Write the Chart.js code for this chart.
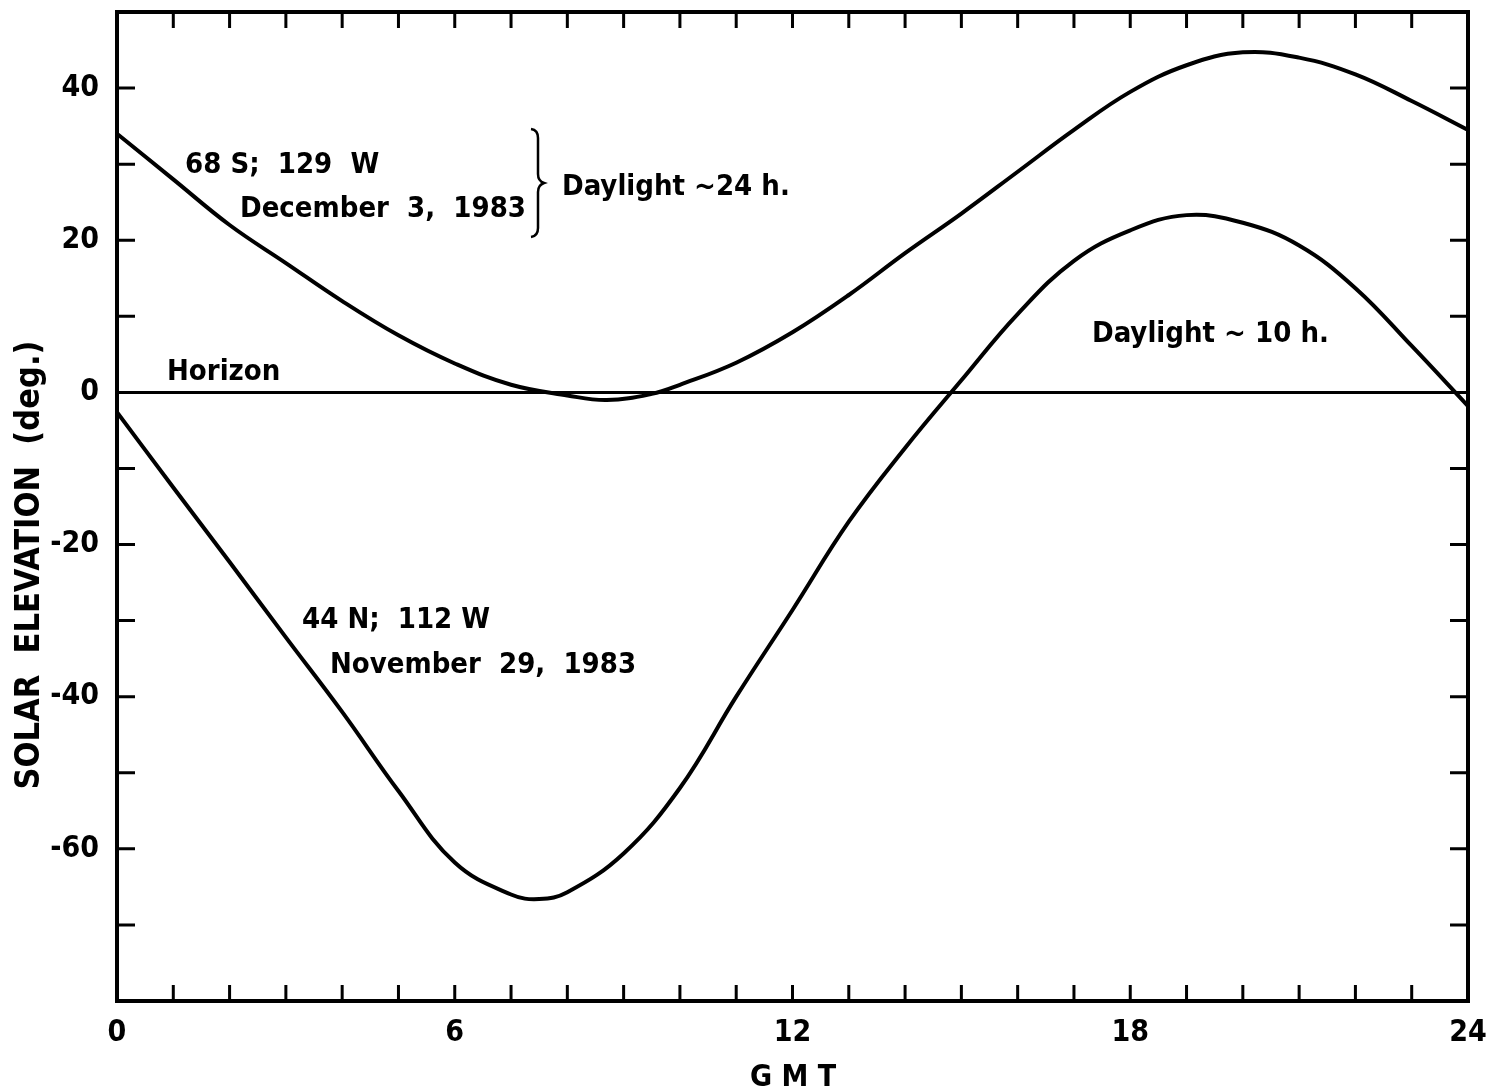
<!DOCTYPE html>
<html>
<head>
<meta charset="utf-8">
<title>Solar elevation</title>
<script src="https://cdn.jsdelivr.net/npm/chart.js@4.4.1/dist/chart.umd.min.js"></script>
<style>
	html, body { margin: 0; padding: 0; background: #fff; }
	canvas { display: block; }
</style>
</head>
<body>
<canvas id="solar-canvas" width="1487" height="1091"></canvas>
<script>

// 68 S; 129 W  -  December 3, 1983
var hoursSouth = [0, 1, 2, 3, 4, 5, 6, 7, 8, 8.7, 9.5, 10, 11, 12, 13, 14, 15, 16, 17, 18, 19, 20, 21, 22, 23, 24];
var elevSouth  = [34.0, 28.0, 22.0, 17.0, 12.0, 7.5, 3.8, 1.0, -0.4, -1.0, -0.2, 1.0, 3.9, 7.9, 12.8, 18.3, 23.5, 29.0, 34.5, 39.5, 43.0, 44.7, 44.0, 41.8, 38.3, 34.5];

// 44 N; 112 W  -  November 29, 1983
var hoursNorth = [0, 1, 2, 3, 4, 5, 6, 7, 7.5, 8, 9, 10, 11, 12, 13, 14, 15, 16, 17, 18, 19, 20, 21, 22, 23, 24];
var elevNorth  = [-2.6, -12.5, -22.3, -32.2, -42.0, -52.4, -61.8, -66.0, -66.6, -65.7, -60.6, -52.0, -40.0, -28.6, -17.0, -7.3, 1.6, 10.3, 17.3, 21.3, 23.3, 22.3, 19.3, 13.7, 6.1, -1.8];

var xLabels = [0, 6, 12, 18, 24];
var yLabels = [40, 20, 0, -20, -40, -60];

function toPoints(xs, ys) {
	var pts = [];
	for (var i = 0; i < xs.length; i++) {
		pts.push({ x: xs[i], y: ys[i] });
	}
	return pts;
}

var FONT = '"DejaVu Sans Condensed", "DejaVu Sans", sans-serif';

Chart.defaults.font.family = FONT;
Chart.defaults.font.weight = 'bold';
Chart.defaults.font.size = 30;
Chart.defaults.color = '#000';

// frame, inward ticks and the hand lettering of the figure
var figurePlugin = {
	id: 'figure',
	afterDraw: function (chart) {
		var ctx = chart.ctx;
		var a = chart.chartArea;
		var xs = chart.scales.x;
		var ys = chart.scales.y;
		ctx.save();
		ctx.strokeStyle = '#000';
		ctx.fillStyle = '#000';

		ctx.lineWidth = 3;
		ctx.beginPath();
		for (var h = 1; h < 24; h++) {
			var px = xs.getPixelForValue(h);
			ctx.moveTo(px, a.bottom); ctx.lineTo(px, a.bottom - 16);
			ctx.moveTo(px, a.top); ctx.lineTo(px, a.top + 16);
		}
		for (var v = -70; v <= 40; v += 10) {
			var py = ys.getPixelForValue(v);
			ctx.moveTo(a.left, py); ctx.lineTo(a.left + 18, py);
			ctx.moveTo(a.right, py); ctx.lineTo(a.right - 18, py);
		}
		ctx.stroke();

		ctx.lineWidth = 4;
		ctx.strokeRect(a.left, a.top, a.right - a.left, a.bottom - a.top);

		// curly brace
		ctx.lineWidth = 2.5;
		ctx.beginPath();
		ctx.moveTo(531, 129);
		ctx.quadraticCurveTo(538, 130, 538, 138);
		ctx.lineTo(538, 174);
		ctx.quadraticCurveTo(538, 181, 544, 183);
		ctx.quadraticCurveTo(538, 185, 538, 192);
		ctx.lineTo(538, 228);
		ctx.quadraticCurveTo(538, 236, 531, 237);
		ctx.stroke();

		ctx.font = 'bold 29px ' + FONT;
		ctx.textAlign = 'left';
		ctx.textBaseline = 'alphabetic';
		ctx.fillText('68 S;  129  W', 185, 173);
		ctx.fillText('December  3,  1983', 240, 217);
		ctx.fillText('Daylight ~24 h.', 562, 195);
		ctx.fillText('Horizon', 167, 380);
		ctx.fillText('Daylight ~ 10 h.', 1092, 342);
		ctx.fillText('44 N;  112 W', 302, 628);
		ctx.fillText('November  29,  1983', 330, 673);

		ctx.textAlign = 'center';
		ctx.textBaseline = 'middle';
		ctx.font = 'bold 30px ' + FONT;
		ctx.fillText('G M T', 793, 1078);

		ctx.translate(30, 565);
		ctx.rotate(-Math.PI / 2);
		ctx.font = 'bold 34px ' + FONT;
		ctx.fillText('SOLAR  ELEVATION  (deg.)', 0, 0);
		ctx.restore();
	}
};

var data = {
	datasets: [
		{
			label: '68 S; 129 W',
			data: toPoints(hoursSouth, elevSouth),
			borderColor: '#000',
			borderWidth: 4,
			pointRadius: 0,
			fill: false,
			tension: 0.4
		},
		{
			label: '44 N; 112 W',
			data: toPoints(hoursNorth, elevNorth),
			borderColor: '#000',
			borderWidth: 4,
			pointRadius: 0,
			fill: false,
			tension: 0.4
		}
	]
};

var options = {
	responsive: false,
	animation: false,
	layout: { padding: { top: 12, right: 19, left: 0, bottom: 0 } },
	plugins: {
		legend: { display: false },
		tooltip: { enabled: false }
	},
	scales: {
		x: {
			type: 'linear',
			min: 0,
			max: 24,
			afterFit: function (scale) {
				scale.height = 90;
				scale.paddingLeft = 0;
				scale.paddingRight = 0;
			},
			border: { display: false },
			grid: { display: false, drawTicks: false },
			ticks: {
				stepSize: 1,
				autoSkip: false,
				maxRotation: 0,
				padding: 14,
				callback: function (value) {
					return xLabels.indexOf(value) >= 0 ? String(value) : '';
				}
			}
		},
		y: {
			type: 'linear',
			min: -80,
			max: 50,
			afterFit: function (scale) {
				scale.width = 117;
				scale.paddingTop = 0;
				scale.paddingBottom = 0;
			},
			border: { display: false },
			grid: {
				drawTicks: false,
				lineWidth: 3,
				color: function (c) {
					return c.tick && c.tick.value === 0 ? '#000' : 'rgba(0,0,0,0)';
				}
			},
			ticks: {
				stepSize: 10,
				autoSkip: false,
				padding: 18,
				callback: function (value) {
					return yLabels.indexOf(value) >= 0 ? String(value) : '';
				}
			}
		}
	}
};

var chart = new Chart(document.getElementById('solar-canvas'), {
	type: 'line',
	data: data,
	options: options,
	plugins: [figurePlugin]
});

</script>
</body>
</html>
